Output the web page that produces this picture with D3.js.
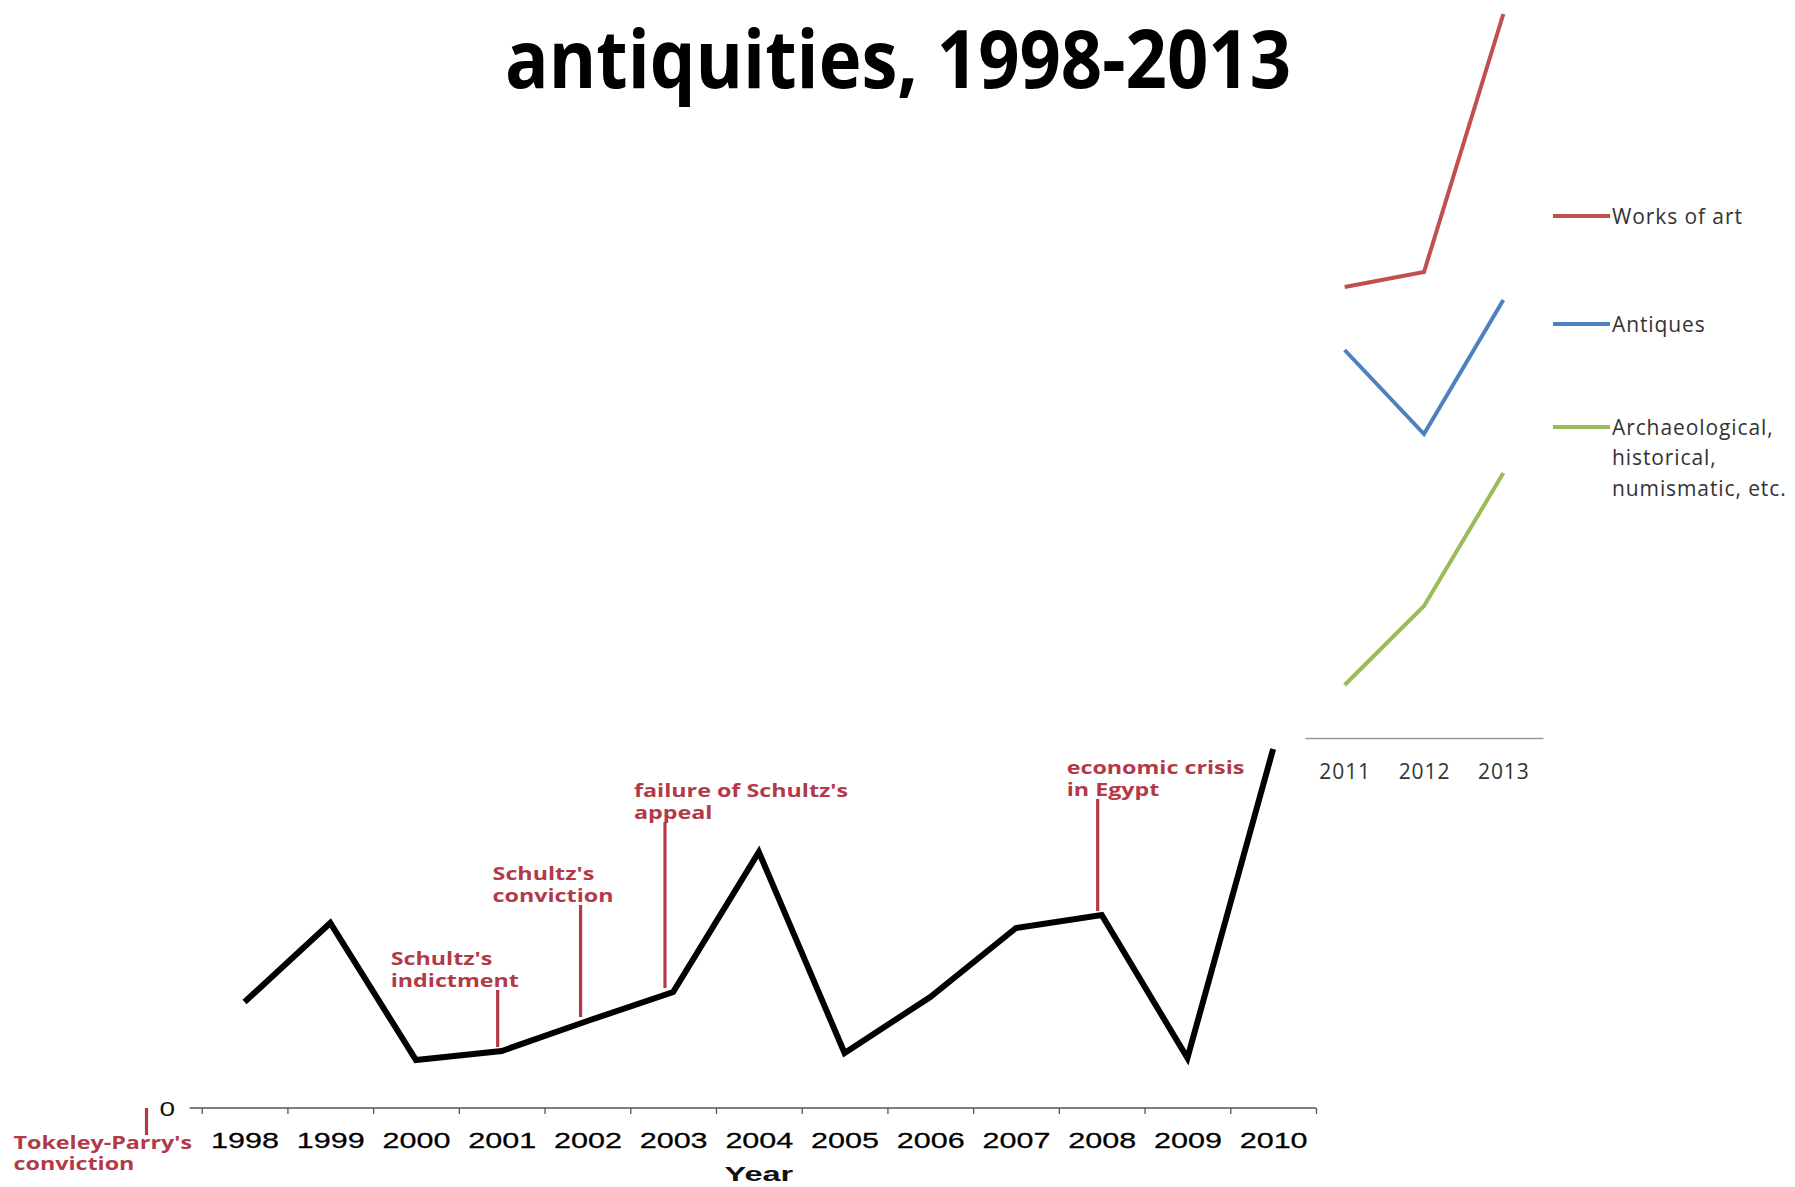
<!DOCTYPE html>
<html>
<head>
<meta charset="utf-8">
<script src="https://cdnjs.cloudflare.com/ajax/libs/d3/7.8.5/d3.min.js"></script>
<style>
  html, body { margin: 0; padding: 0; background: #fff; }
  svg { display: block; }
</style>
</head>
<body>
<svg id="chart" width="1795" height="1187"></svg>
<script>
// ---- data ----
const chartTitle = "antiquities, 1998-2013";
const years = [1998, 1999, 2000, 2001, 2002, 2003, 2004, 2005, 2006, 2007, 2008, 2009, 2010];
const seizures = [106, 185, 48, 57, 87, 116, 256, 55, 111, 180, 193, 50, 359];
const xAxisTitle = "Year";
const yTickLabels = ["0"];

const recentYears = [2011, 2012, 2013];
const worksOfArt = [451, 466, 724];
const antiques = [388, 304, 438];
const archaeological = [53, 132, 265];
const seriesNames = ["Works of art", "Antiques", "Archaeological, historical, numismatic, etc."];
const seriesLegendLines = [["Works of art"], ["Antiques"], ["Archaeological,", "historical,", "numismatic, etc."]];

// events marked along the time axis (position in years, label lines)
const eventPositions = [1996.856, 2000.953, 2001.92, 2002.905, 2007.953];
const eventLabels = [
  ["Tokeley-Parry's", "conviction"],
  ["Schultz's", "indictment"],
  ["Schultz's", "conviction"],
  ["failure of Schultz's", "appeal"],
  ["economic crisis", "in Egypt"]
];
// level (in chart units) where each marker's label sits
const eventLevels = [-27, 118, 203, 286, 309];

// ---- layout ----
const svg = d3.select("#chart");
const annotColor = "#B23A48";
const seriesColors = ["#C0504D", "#4F81BD", "#9BBB59"];

// title
svg.append("text")
  .attr("x", 898).attr("y", 88)
  .attr("text-anchor", "middle")
  .attr("textLength", 786)
  .attr("lengthAdjust", "spacingAndGlyphs")
  .style("font-family", "'Open Sans', sans-serif")
  .style("font-weight", 700)
  .style("font-size", "81px")
  .style("fill", "#000")
  .text(chartTitle);

// ---- main chart (1998-2010) ----
const x = d3.scaleLinear().domain([1997.5, 2010.5]).range([201.7, 1316]);
const y = d3.scaleLinear().domain([0, 400]).range([1108, 708]);

const axisG = svg.append("g").attr("transform", `translate(0,${y(0)})`);
// tick marks between years
axisG.append("g")
  .call(d3.axisBottom(x).tickValues(d3.range(1997.5, 2011, 1)).tickSize(6).tickSizeOuter(0).tickFormat(""))
  .call(g => g.select(".domain").remove())
  .call(g => g.selectAll("line").attr("stroke", "#555").attr("stroke-width", 1.3));
axisG.append("line")
  .attr("x1", x(1997.5) - 12).attr("x2", x(2010.5))
  .attr("y1", 0).attr("y2", 0)
  .attr("stroke", "#555").attr("stroke-width", 1.3);
// year labels centered on each year
axisG.append("g")
  .call(d3.axisBottom(x).tickValues(years).tickSize(0).tickFormat(d3.format("d")))
  .call(g => g.select(".domain").remove())
  .call(g => g.selectAll("text")
    .attr("y", null).attr("dy", null)
    .attr("transform", "translate(0,40) scale(1.42,1)")
    .style("font-family", "'Liberation Sans', Arial, sans-serif")
    .style("font-size", "21.5px")
    .style("stroke", "#000")
    .style("stroke-width", 0.25)
    .style("fill", "#000"));

// y zero label
svg.append("g").selectAll("text").data(yTickLabels).join("text")
  .attr("transform", d => `translate(175,${y(+d) + 8}) scale(1.4,1)`)
  .attr("text-anchor", "end")
  .style("font-family", "'Liberation Sans', Arial, sans-serif")
  .style("font-size", "20px")
  .style("fill", "#111")
  .text(d => d);

// x axis title
svg.append("text")
  .attr("transform", `translate(${(x(1997.5) + x(2010.5)) / 2},1181) scale(1.55,1)`)
  .attr("text-anchor", "middle")
  .style("font-family", "'Liberation Sans', Arial, sans-serif")
  .style("font-weight", 700)
  .style("font-size", "21px")
  .style("fill", "#111")
  .text(xAxisTitle);

// main series line
const mainData = years.map((yr, i) => ({ year: yr, value: seizures[i] }));
svg.append("path")
  .datum(mainData)
  .attr("fill", "none")
  .attr("stroke", "#000")
  .attr("stroke-width", 6)
  .attr("stroke-linejoin", "miter")
  .attr("d", d3.line().x(d => x(d.year)).y(d => y(d.value)));

// event markers
const labelDx = [-133, -107, -88, -31, -31];
const eventG = svg.append("g");
eventPositions.forEach((pos, i) => {
  const px = x(pos);
  const level = eventLevels[i];
  let yTop, yBot, base1, base2;
  if (level < 0) {
    // marker hanging below the axis
    yTop = y(0);
    yBot = y(level);
    base1 = yBot + 14;
    base2 = yBot + 35;
  } else {
    const idx = years.indexOf(Math.round(pos));
    yTop = y(level);
    yBot = y(seizures[idx]) - 4;
    base1 = yTop - 25;
    base2 = yTop - 3;
  }
  eventG.append("line")
    .attr("x1", px).attr("x2", px)
    .attr("y1", yTop).attr("y2", yBot)
    .attr("stroke", annotColor).attr("stroke-width", 3.2);
  [base1, base2].forEach((b, j) => {
    eventG.append("text")
      .attr("transform", `translate(${px + labelDx[i]},${b}) scale(1.37,1)`)
      .style("font-family", "'Open Sans', sans-serif")
      .style("font-weight", 700)
      .style("font-size", "17px")
      .style("fill", annotColor)
      .text(eventLabels[i][j]);
  });
});

// ---- recent panel (2011-2013) ----
const xR = d3.scalePoint().domain(recentYears).range([1305, 1543]).padding(0.5);
const yR = d3.scaleLinear().domain([0, 740]).range([738, -2]);

svg.append("g")
  .attr("transform", `translate(0,${yR(0)})`)
  .call(d3.axisBottom(xR).tickSize(0).tickSizeOuter(0))
  .call(g => g.select(".domain").attr("stroke", "#999").attr("stroke-width", 1.5))
  .call(g => g.selectAll("text")
    .attr("y", 41).attr("dy", null)
    .style("font-family", "'Open Sans', sans-serif")
    .style("font-size", "21px")
    .style("letter-spacing", "0.9px")
    .style("fill", "#333"));

const recentSeries = [worksOfArt, antiques, archaeological];
recentSeries.forEach((vals, s) => {
  svg.append("path")
    .datum(recentYears.map((yr, i) => ({ year: yr, value: vals[i] })))
    .attr("fill", "none")
    .attr("stroke", seriesColors[s])
    .attr("stroke-width", 4)
    .attr("stroke-linejoin", "miter")
    .attr("d", d3.line().x(d => xR(d.year)).y(d => yR(d.value)));
});

// legend
const legendY = [216, 324, 427];
const legendG = svg.append("g");
seriesNames.forEach((name, s) => {
  legendG.append("line")
    .attr("x1", 1553).attr("x2", 1610)
    .attr("y1", legendY[s]).attr("y2", legendY[s])
    .attr("stroke", seriesColors[s]).attr("stroke-width", 4);
  seriesLegendLines[s].forEach((ln, j) => {
    legendG.append("text")
      .attr("x", 1612)
      .attr("y", legendY[s] + 7.5 + j * 30.5)
      .style("font-family", "'Open Sans', sans-serif")
      .style("font-size", "21px")
      .style("letter-spacing", "0.9px")
      .style("fill", "#333")
      .text(ln);
  });
});
</script>
</body>
</html>
